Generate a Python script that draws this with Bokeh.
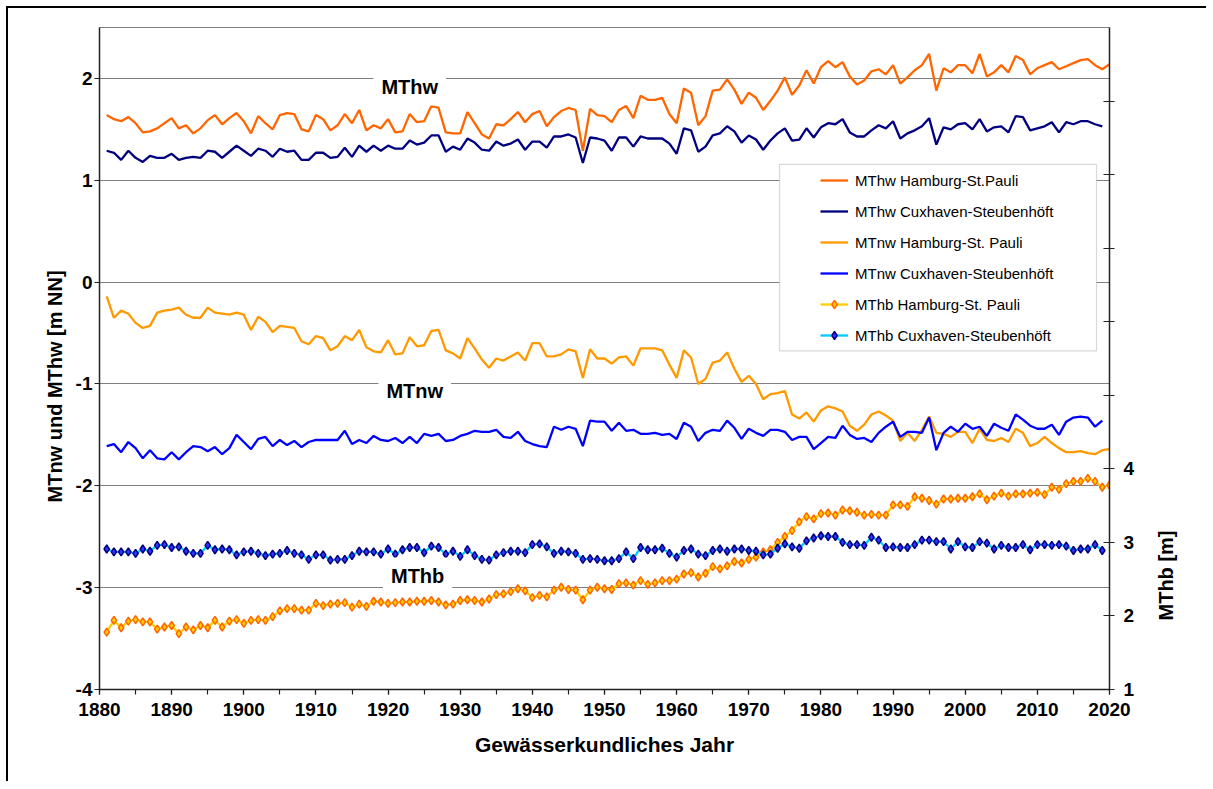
import math
from bokeh.plotting import figure
from bokeh.models import (Range1d, LinearAxis, SingleIntervalTicker, FixedTicker,
                          Label, Legend, LegendItem, BoxAnnotation, Title, PrintfTickFormatter)
from bokeh.embed import file_html
from bokeh.resources import INLINE

# ---------------- data ----------------
years_hh = list(range(1881, 2021))   # Hamburg-St. Pauli
years_cx = list(range(1881, 2020))   # Cuxhaven-Steubenhöft

mthw_hh = [1.64, 1.60, 1.58, 1.62, 1.56, 1.47, 1.48, 1.51, 1.56, 1.61,
           1.51, 1.54, 1.46, 1.51, 1.59, 1.64, 1.55, 1.61, 1.66, 1.58,
           1.46, 1.63, 1.56, 1.50, 1.64, 1.66, 1.65, 1.50, 1.48, 1.64,
           1.60, 1.49, 1.54, 1.65, 1.56, 1.69, 1.49, 1.54, 1.51, 1.60,
           1.47, 1.48, 1.65, 1.57, 1.58, 1.73, 1.71, 1.47, 1.46, 1.46,
           1.67, 1.56, 1.45, 1.41, 1.55, 1.54, 1.60, 1.67, 1.57, 1.65,
           1.68, 1.53, 1.62, 1.68, 1.71, 1.69, 1.29, 1.70, 1.64, 1.63,
           1.57, 1.69, 1.73, 1.61, 1.83, 1.79, 1.79, 1.81, 1.65, 1.56,
           1.90, 1.86, 1.54, 1.63, 1.88, 1.89, 1.99, 1.89, 1.75, 1.86,
           1.81, 1.69, 1.78, 1.88, 2.01, 1.84, 1.93, 2.08, 1.95, 2.11,
           2.17, 2.11, 2.16, 2.02, 1.94, 1.98, 2.07, 2.09, 2.04, 2.13,
           1.95, 2.01, 2.08, 2.13, 2.24, 1.88, 2.10, 2.06, 2.13, 2.13,
           2.05, 2.24, 2.02, 2.06, 2.13, 2.06, 2.22, 2.18, 2.04, 2.10,
           2.13, 2.16, 2.09, 2.12, 2.15, 2.18, 2.19, 2.13, 2.09, 2.14]

mthw_cx = [1.29, 1.27, 1.20, 1.29, 1.22, 1.18, 1.24, 1.22, 1.22, 1.26,
           1.20, 1.22, 1.23, 1.22, 1.29, 1.28, 1.22, 1.28, 1.34, 1.29,
           1.24, 1.31, 1.29, 1.23, 1.31, 1.28, 1.29, 1.20, 1.20, 1.27,
           1.27, 1.22, 1.23, 1.32, 1.23, 1.34, 1.28, 1.34, 1.29, 1.34,
           1.31, 1.31, 1.39, 1.35, 1.37, 1.44, 1.44, 1.28, 1.33, 1.30,
           1.41, 1.37, 1.30, 1.29, 1.38, 1.34, 1.36, 1.40, 1.30, 1.38,
           1.38, 1.32, 1.43, 1.43, 1.45, 1.42, 1.17, 1.42, 1.41, 1.39,
           1.29, 1.42, 1.42, 1.33, 1.43, 1.41, 1.41, 1.41, 1.36, 1.26,
           1.51, 1.49, 1.28, 1.33, 1.44, 1.46, 1.53, 1.48, 1.37, 1.44,
           1.40, 1.30, 1.39, 1.46, 1.51, 1.39, 1.40, 1.51, 1.42, 1.52,
           1.56, 1.55, 1.60, 1.47, 1.43, 1.43, 1.49, 1.54, 1.51, 1.58,
           1.41, 1.46, 1.49, 1.53, 1.61, 1.35, 1.52, 1.50, 1.55, 1.56,
           1.50, 1.60, 1.48, 1.52, 1.53, 1.47, 1.63, 1.62, 1.49, 1.51,
           1.53, 1.57, 1.47, 1.57, 1.55, 1.58, 1.58, 1.55, 1.53]

mtnw_hh = [-0.14, -0.35, -0.28, -0.31, -0.40, -0.45, -0.43, -0.30, -0.28, -0.27,
           -0.25, -0.32, -0.35, -0.35, -0.25, -0.30, -0.31, -0.32, -0.30, -0.32,
           -0.47, -0.34, -0.39, -0.49, -0.43, -0.44, -0.45, -0.58, -0.61, -0.53,
           -0.55, -0.67, -0.63, -0.53, -0.57, -0.47, -0.64, -0.68, -0.69, -0.57,
           -0.71, -0.70, -0.54, -0.63, -0.62, -0.48, -0.47, -0.67, -0.70, -0.75,
           -0.55, -0.65, -0.76, -0.84, -0.75, -0.77, -0.73, -0.69, -0.77, -0.60,
           -0.60, -0.73, -0.73, -0.71, -0.66, -0.68, -0.94, -0.66, -0.75, -0.75,
           -0.80, -0.74, -0.73, -0.82, -0.65, -0.65, -0.65, -0.67, -0.81, -0.94,
           -0.67, -0.74, -1.00, -0.95, -0.79, -0.77, -0.69, -0.85, -0.98, -0.92,
           -1.00, -1.15, -1.10, -1.09, -1.07, -1.30, -1.34, -1.28, -1.37, -1.26,
           -1.22, -1.24, -1.27, -1.41, -1.46, -1.40, -1.30, -1.27, -1.31, -1.36,
           -1.56, -1.48, -1.56, -1.45, -1.32, -1.48, -1.49, -1.52, -1.47, -1.47,
           -1.58, -1.44, -1.55, -1.56, -1.53, -1.57, -1.44, -1.48, -1.61, -1.58,
           -1.52, -1.58, -1.63, -1.67, -1.67, -1.66, -1.68, -1.69, -1.65, -1.64]

mtnw_cx = [-1.61, -1.59, -1.67, -1.57, -1.63, -1.73, -1.65, -1.73, -1.74, -1.67,
           -1.74, -1.67, -1.61, -1.62, -1.66, -1.62, -1.69, -1.63, -1.50, -1.57,
           -1.64, -1.54, -1.52, -1.61, -1.55, -1.60, -1.56, -1.62, -1.57, -1.55,
           -1.55, -1.55, -1.55, -1.46, -1.59, -1.55, -1.58, -1.51, -1.55, -1.56,
           -1.53, -1.58, -1.52, -1.58, -1.49, -1.51, -1.49, -1.56, -1.55, -1.51,
           -1.49, -1.46, -1.47, -1.47, -1.45, -1.52, -1.53, -1.47, -1.56, -1.59,
           -1.61, -1.62, -1.42, -1.45, -1.42, -1.44, -1.61, -1.36, -1.37, -1.37,
           -1.46, -1.38, -1.46, -1.45, -1.49, -1.49, -1.48, -1.50, -1.49, -1.54,
           -1.38, -1.42, -1.56, -1.48, -1.45, -1.46, -1.36, -1.43, -1.54, -1.44,
           -1.48, -1.51, -1.45, -1.45, -1.47, -1.55, -1.52, -1.52, -1.64, -1.58,
           -1.52, -1.53, -1.41, -1.50, -1.54, -1.53, -1.57, -1.48, -1.42, -1.37,
           -1.52, -1.47, -1.47, -1.48, -1.33, -1.65, -1.48, -1.42, -1.47, -1.39,
           -1.44, -1.42, -1.51, -1.39, -1.43, -1.46, -1.30, -1.35, -1.41, -1.44,
           -1.44, -1.40, -1.50, -1.37, -1.33, -1.32, -1.33, -1.42, -1.36]

mthb_hh = [1.78, 1.94, 1.84, 1.93, 1.95, 1.92, 1.92, 1.82, 1.85, 1.87,
           1.76, 1.85, 1.81, 1.87, 1.84, 1.94, 1.85, 1.93, 1.95, 1.90,
           1.94, 1.95, 1.94, 1.99, 2.07, 2.10, 2.10, 2.08, 2.08, 2.17,
           2.14, 2.16, 2.17, 2.18, 2.12, 2.16, 2.13, 2.20, 2.19, 2.17,
           2.18, 2.19, 2.19, 2.20, 2.20, 2.21, 2.19, 2.15, 2.16, 2.21,
           2.22, 2.21, 2.19, 2.23, 2.29, 2.30, 2.33, 2.37, 2.34, 2.25,
           2.28, 2.26, 2.35, 2.39, 2.36, 2.35, 2.22, 2.35, 2.39, 2.37,
           2.36, 2.44, 2.45, 2.42, 2.48, 2.43, 2.45, 2.48, 2.48, 2.50,
           2.57, 2.59, 2.53, 2.58, 2.67, 2.64, 2.68, 2.74, 2.72, 2.77,
           2.80, 2.87, 2.90, 3.00, 3.08, 3.16, 3.28, 3.35, 3.32, 3.39,
           3.40, 3.37, 3.44, 3.43, 3.41, 3.37, 3.38, 3.37, 3.37, 3.51,
           3.51, 3.49, 3.62, 3.60, 3.57, 3.52, 3.59, 3.59, 3.60, 3.60,
           3.62, 3.66, 3.58, 3.63, 3.67, 3.63, 3.66, 3.66, 3.67, 3.68,
           3.65, 3.75, 3.72, 3.80, 3.83, 3.83, 3.87, 3.83, 3.75, 3.78]

mthb_cx = [2.91, 2.87, 2.87, 2.87, 2.85, 2.91, 2.88, 2.96, 2.97, 2.93,
           2.94, 2.88, 2.85, 2.85, 2.96, 2.90, 2.91, 2.90, 2.83, 2.87,
           2.88, 2.85, 2.82, 2.84, 2.85, 2.89, 2.85, 2.83, 2.77, 2.83,
           2.83, 2.76, 2.77, 2.77, 2.82, 2.88, 2.87, 2.87, 2.84, 2.91,
           2.84, 2.90, 2.93, 2.93, 2.86, 2.95, 2.93, 2.84, 2.88, 2.81,
           2.90, 2.82, 2.77, 2.76, 2.83, 2.86, 2.88, 2.88, 2.86, 2.97,
           2.98, 2.94, 2.85, 2.88, 2.87, 2.85, 2.77, 2.78, 2.77, 2.75,
           2.75, 2.78, 2.87, 2.78, 2.93, 2.90, 2.90, 2.92, 2.85, 2.80,
           2.89, 2.91, 2.84, 2.82, 2.89, 2.91, 2.88, 2.91, 2.91, 2.89,
           2.88, 2.83, 2.84, 2.92, 2.98, 2.94, 2.92, 3.02, 3.06, 3.09,
           3.08, 3.08, 3.00, 2.97, 2.97, 2.96, 3.07, 3.03, 2.93, 2.94,
           2.93, 2.93, 2.97, 3.03, 3.03, 3.01, 3.01, 2.91, 3.01, 2.94,
           2.93, 3.01, 2.99, 2.91, 2.96, 2.93, 2.93, 2.97, 2.90, 2.97,
           2.97, 2.96, 2.97, 2.95, 2.89, 2.91, 2.91, 2.97, 2.89]

left_ticks = [-4, -3, -2, -1, 0, 1, 2]
right_ticks = [1, 2, 3, 4, 5, 6, 7, 8, 9]
right_labelled = [1, 2, 3, 4]

legend_labels = ["MThw Hamburg-St.Pauli", "MThw Cuxhaven-Steubenhöft",
                 "MTnw Hamburg-St. Pauli", "MTnw Cuxhaven-Steubenhöft",
                 "MThb Hamburg-St. Pauli", "MThb Cuxhaven-Steubenhöft"]

FONT = "Liberation Sans"

# ---------------- figure ----------------
p = figure(width=1200, height=775, x_range=Range1d(1880, 2020), y_range=Range1d(-4, 2.5),
           output_backend="svg", toolbar_location=None,
           min_border_left=91, min_border_right=99, min_border_top=19, min_border_bottom=94)
p.extra_y_ranges = {"mthb": Range1d(1, 10)}
p.styles = {"margin-left": "6px", "margin-top": "6px",
            "border-left": "2px solid #000000", "border-top": "2px solid #000000"}
p.background_fill_color = "white"
p.border_fill_color = "white"
p.outline_line_color = "#808080"
p.outline_line_width = 1

p.xgrid.visible = False
p.ygrid.ticker = FixedTicker(ticks=left_ticks)
p.ygrid.grid_line_color = "#808080"
p.ygrid.grid_line_width = 1

xa = p.xaxis[0]
xa.ticker = SingleIntervalTicker(interval=10, num_minor_ticks=2)
xa.axis_label = "Gewässerkundliches Jahr"
ya = p.yaxis[0]
ya.ticker = FixedTicker(ticks=left_ticks)
ya.formatter = PrintfTickFormatter(format="%d")

ra = LinearAxis(y_range_name="mthb", ticker=FixedTicker(ticks=right_ticks),
                major_label_overrides={t: "" for t in right_ticks if t not in right_labelled})
p.add_layout(ra, "right")

for ax in (xa, ya, ra):
    ax.axis_line_color = "#222222"
    ax.axis_line_width = 1.5
    ax.major_tick_line_color = "#222222"
    ax.minor_tick_line_color = "#222222"
    ax.major_tick_line_width = 1.2
    ax.minor_tick_line_width = 1.2
    ax.major_tick_out = 5
    ax.major_tick_in = 0
    ax.minor_tick_out = 5
    ax.minor_tick_in = 0
    ax.major_label_text_font = FONT
    ax.major_label_text_font_style = "bold"
    ax.major_label_text_font_size = "19px"
    ax.major_label_text_color = "black"
    ax.axis_label_text_font = FONT
    ax.axis_label_text_font_style = "bold"
    ax.axis_label_text_font_size = "21px"
    ax.axis_label_text_color = "black"

xa.major_label_standoff = 8
xa.axis_label_standoff = 14
ya.major_label_standoff = 2
ya.minor_tick_out = 0
ra.major_label_standoff = 9
ra.major_tick_in = 6
ra.minor_tick_out = 0

# left axis title
p.add_layout(Title(text="MTnw und MThw [m NN]", align="left", offset=187, standoff=14,
                   text_font=FONT, text_font_style="bold", text_font_size="20px",
                   text_color="black"), "left")
# right axis title, reading bottom-to-top, in a side panel
p.add_layout(Label(x=28, y=114, x_units="screen", y_units="screen", text="MThb [m]",
                   angle=math.pi / 2, text_align="center", text_baseline="middle",
                   text_font=FONT, text_font_style="bold", text_font_size="20px",
                   text_color="black"), "right")

# ---------------- series ----------------
lw = 2.3
r1 = p.line(years_hh, mthw_hh, line_color="#FF6600", line_width=lw)
r2 = p.line(years_cx, mthw_cx, line_color="#000080", line_width=lw)
r3 = p.line(years_hh, mtnw_hh, line_color="#FF9900", line_width=lw)
r4 = p.line(years_cx, mtnw_cx, line_color="#0000FF", line_width=lw)
r5l = p.line(years_hh, mthb_hh, line_color="#FFCC00", line_width=lw, y_range_name="mthb")
r5m = p.scatter(years_hh, mthb_hh, marker="diamond", size=8, fill_color="#FFCC00",
                line_color="#FF6600", line_width=1.5, y_range_name="mthb")
r6l = p.line(years_cx, mthb_cx, line_color="#00CCFF", line_width=lw, y_range_name="mthb")
r6m = p.scatter(years_cx, mthb_cx, marker="diamond", size=8, fill_color="#3333FF",
                line_color="#000080", line_width=1.5, y_range_name="mthb")

# ---------------- group labels on grid lines ----------------
for txt, xx, yy in [("MThw", 1923.0, 1.92), ("MTnw", 1923.7, -1.07), ("MThb", 1924.1, -2.89)]:
    p.add_layout(Label(x=xx, y=yy, text=txt, text_align="center", text_baseline="middle",
                       text_font=FONT, text_font_style="bold", text_font_size="20px",
                       text_color="black", background_fill_color="white", padding=8))

# ---------------- legend ----------------
p.add_layout(BoxAnnotation(left=1974.26, right=2018.2, top=1.157, bottom=-0.676,
                           fill_color="white", fill_alpha=1.0,
                           line_color="#808080", line_width=1.2))
items = [LegendItem(label=legend_labels[0], renderers=[r1]),
         LegendItem(label=legend_labels[1], renderers=[r2]),
         LegendItem(label=legend_labels[2], renderers=[r3]),
         LegendItem(label=legend_labels[3], renderers=[r4]),
         LegendItem(label=legend_labels[4], renderers=[r5l, r5m]),
         LegendItem(label=legend_labels[5], renderers=[r6l, r6m])]
leg = Legend(items=items, location=(721, 344), padding=0, spacing=11, margin=0,
             glyph_width=28, glyph_height=20, label_height=20, label_standoff=7,
             label_text_font=FONT, label_text_font_size="15px", label_text_color="black",
             border_line_alpha=0, background_fill_alpha=0)
p.add_layout(leg, "center")

open("out.html", "w").write(file_html(p, INLINE))
